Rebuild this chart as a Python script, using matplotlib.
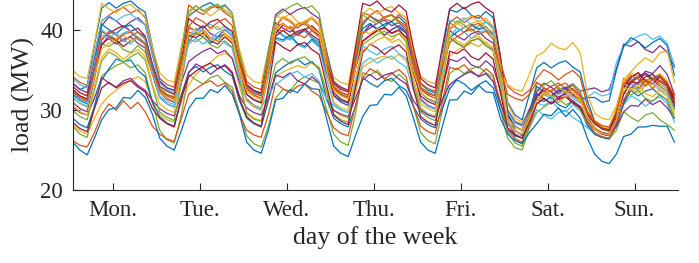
import numpy as np
import matplotlib
matplotlib.use("Agg")
import matplotlib.pyplot as plt

plt.rcParams['font.family'] = ['Liberation Serif', 'DejaVu Serif']

days = ["Mon.", "Tue.", "Wed.", "Thu.", "Fri.", "Sat.", "Sun."]
hours_of_day = [1, 3, 5, 7, 9, 11, 13, 15, 17, 19, 21, 23]

s00 = [[33.4,32.6,33.0,38.2,42.8,43.5,42.8,43.4,43.7,42.9,42.3,38.0],
       [33.7,32.8,32.5,37.8,41.8,42.5,43.1,43.5,42.8,43.2,42.2,37.2],
       [33.2,32.3,32.0,35.6,40.1,39.4,38.9,39.7,40.0,39.1,38.5,35.4],
       [32.6,31.9,31.6,36.5,40.7,41.8,41.3,40.5,41.2,41.7,40.8,36.8],
       [33.3,32.5,32.2,37.2,42.6,42.3,42.9,41.9,41.5,42.4,41.6,36.5],
       [31.0,29.4,28.8,32.0,35.3,36.0,35.3,35.9,36.2,35.4,34.8,31.2],
       [28.6,27.8,27.5,30.0,33.0,33.7,34.3,34.7,34.0,34.4,33.4,30.5]]
s01 = [[34.2,33.5,33.1,37.0,41.2,41.9,42.5,42.9,42.2,42.6,41.6,37.4],
       [34.0,33.2,32.9,37.6,43.2,42.5,42.0,42.8,43.1,42.2,41.6,37.2],
       [33.6,32.9,32.6,36.8,40.5,41.6,41.1,40.3,41.0,41.5,40.6,36.6],
       [33.5,32.8,32.5,37.0,42.2,41.9,42.5,41.5,41.1,42.0,41.2,36.9],
       [33.4,32.7,32.4,36.6,41.0,41.7,41.0,41.6,41.9,41.1,40.5,35.4],
       [30.0,28.6,28.2,30.2,31.7,32.4,33.0,33.4,32.7,33.1,32.1,29.4],
       [28.3,27.8,27.6,29.6,34.0,33.3,32.8,33.6,33.9,33.0,32.4,30.2]]
s02 = [[35.0,34.2,34.0,38.4,43.4,42.7,42.2,43.0,43.3,42.4,41.8,37.9],
       [34.7,33.8,33.5,38.0,42.0,43.1,42.6,41.8,42.5,43.0,42.1,37.6],
       [34.4,33.6,33.4,37.6,41.8,41.5,42.1,41.1,40.7,41.6,40.8,37.1],
       [34.1,33.5,33.2,37.9,42.1,42.8,42.1,42.7,43.0,42.2,41.6,37.3],
       [34.3,33.6,33.3,36.8,40.1,40.8,41.4,41.8,41.1,41.5,40.5,35.9],
       [30.8,29.0,28.5,30.0,32.7,32.0,31.5,32.3,32.6,31.7,31.1,29.6],
       [28.8,28.0,27.8,30.2,33.6,34.7,34.2,33.4,34.1,34.6,33.7,31.3]]
s03 = [[33.4,32.6,32.2,36.4,40.6,41.7,41.2,40.4,41.1,41.6,40.7,36.9],
       [33.5,32.8,32.5,36.1,40.3,40.0,40.6,39.6,39.2,40.1,39.3,36.0],
       [33.0,32.4,32.2,37.4,42.0,42.7,42.0,42.6,42.9,42.1,41.5,37.5],
       [33.6,32.9,32.5,36.4,39.6,40.3,40.9,41.3,40.6,41.0,40.0,35.8],
       [32.8,32.2,31.9,35.7,40.0,39.3,38.8,39.6,39.9,39.0,38.4,34.7],
       [30.0,28.5,28.1,30.0,32.3,33.4,32.9,32.1,32.8,33.3,32.4,32.6],
       [32.8,32.3,32.6,35.2,38.3,38.0,38.6,37.6,37.2,38.1,37.3,35.4]]
s04 = [[32.6,31.8,31.4,34.4,38.3,38.0,38.6,37.6,37.2,38.1,37.3,34.5],
       [32.8,32.0,31.7,37.4,42.4,43.1,42.4,43.0,43.3,42.5,41.9,37.0],
       [33.0,32.2,31.9,37.3,41.7,42.4,43.0,43.4,42.7,43.1,42.1,37.1],
       [33.0,32.3,31.9,36.8,42.0,41.3,40.8,41.6,41.9,41.0,40.4,35.9],
       [32.9,32.2,31.8,36.0,40.1,41.2,40.7,39.9,40.6,41.1,40.2,35.0],
       [28.8,26.5,25.8,29.5,33.4,33.1,33.7,32.7,32.3,33.2,32.4,29.8],
       [28.4,27.6,27.3,29.4,32.0,33.9,33.2,33.8,34.1,33.3,32.7,30.2]]
s05 = [[34.0,33.2,32.8,37.0,41.2,41.9,41.2,41.8,42.1,41.3,40.7,37.0],
       [33.4,32.6,32.2,36.0,39.1,39.8,40.4,40.8,40.1,40.5,39.5,35.6],
       [32.8,32.2,31.9,35.7,40.0,39.3,38.8,39.6,39.9,39.0,38.4,35.0],
       [32.6,32.0,31.7,35.7,39.6,40.7,40.2,39.4,40.1,40.6,39.7,35.8],
       [32.8,32.1,31.8,36.4,41.3,41.0,41.6,40.6,40.2,41.1,40.3,35.5],
       [29.8,28.4,28.0,29.8,31.4,32.1,31.4,32.0,32.3,31.5,30.9,31.6],
       [32.3,31.8,32.0,36.0,38.0,38.7,39.3,39.6,38.9,39.3,38.4,35.6]]
s06 = [[33.0,32.2,31.8,35.4,38.9,39.6,40.2,40.6,39.9,40.3,39.3,35.8],
       [33.0,32.4,32.0,36.4,41.5,40.8,40.3,41.1,41.4,40.5,39.9,36.2],
       [33.2,32.5,32.1,36.0,39.6,40.7,40.2,39.4,40.1,40.6,39.7,36.0],
       [33.3,32.6,32.3,37.9,43.4,43.1,43.7,42.7,42.3,43.2,42.4,37.8],
       [34.0,33.2,32.8,38.0,42.7,43.4,42.7,43.3,43.6,42.8,42.2,36.8],
       [29.5,27.5,26.8,29.5,31.2,31.9,32.5,32.9,32.2,32.6,31.6,29.0],
       [27.6,27.0,26.8,29.0,32.8,33.5,33.4,34.2,34.5,33.6,33.0,30.5]]
s07 = [[32.0,31.2,30.8,35.4,40.8,40.1,39.6,40.4,40.7,39.8,39.2,35.6],
       [32.3,31.5,31.1,35.0,38.6,39.7,39.2,38.4,39.1,39.6,38.7,34.8],
       [32.0,31.3,31.0,34.8,39.1,38.8,39.4,38.4,38.0,38.9,38.1,34.7],
       [31.9,31.2,30.9,35.5,40.2,40.9,40.2,40.8,41.1,40.3,39.7,35.5],
       [32.2,31.4,31.0,35.2,39.1,39.8,40.4,40.8,40.1,40.5,39.5,34.8],
       [29.5,28.0,27.5,29.8,33.0,32.3,31.8,32.6,32.9,32.0,31.4,31.6],
       [31.6,31.0,31.2,35.0,38.0,39.1,38.6,37.8,38.5,39.0,38.1,34.4]]
s08 = [[32.2,31.4,31.0,35.0,38.8,39.9,39.4,38.6,39.3,39.8,38.9,35.2],
       [32.5,31.8,31.4,35.0,39.8,39.5,40.1,39.1,38.7,39.6,38.8,35.4],
       [32.6,31.9,31.5,36.0,40.2,40.9,40.2,40.8,41.1,40.3,39.7,35.8],
       [32.8,32.0,31.6,35.2,38.6,39.3,39.9,40.3,39.6,40.0,39.0,35.5],
       [32.6,31.9,31.5,35.8,41.0,40.3,39.8,40.6,40.9,40.0,39.4,36.0],
       [33.0,32.2,31.8,32.5,34.0,35.1,34.6,33.8,34.5,35.0,34.1,30.5],
       [28.6,27.8,27.4,29.8,33.0,34.1,34.7,33.7,33.3,34.2,33.4,30.8]]
s09 = [[28.2,27.4,27.0,29.0,30.8,31.8,32.5,33.2,33.8,34.2,33.6,31.0],
       [29.5,28.8,28.5,31.0,33.2,34.5,35.3,36.0,36.8,37.2,36.5,33.0],
       [29.8,29.0,28.7,31.5,34.2,34.8,35.2,35.6,35.3,36.0,35.4,32.5],
       [30.0,29.3,29.0,32.2,35.4,36.0,36.5,36.8,36.4,37.0,36.2,33.0],
       [30.3,29.6,29.3,33.0,36.8,37.5,38.0,38.4,38.0,38.6,37.6,34.5],
       [33.2,32.6,32.4,34.5,36.8,37.3,38.4,37.8,37.6,38.5,37.2,32.0],
       [29.6,29.0,28.8,30.5,33.8,34.8,35.8,36.6,36.0,37.2,37.5,33.5]]
s10 = [[31.0,30.2,29.8,34.0,38.3,39.0,38.3,38.9,39.2,38.4,37.8,34.5],
       [31.6,30.8,30.4,33.5,36.1,36.8,37.4,37.8,37.1,37.5,36.5,33.5],
       [31.4,30.6,30.2,35.0,41.0,40.3,39.8,40.6,40.9,40.0,39.4,35.6],
       [31.8,31.0,30.6,35.2,39.6,40.7,40.2,39.4,40.1,40.6,39.7,35.0],
       [31.4,30.6,30.2,32.8,36.4,36.1,36.7,35.7,35.3,36.2,35.4,32.5],
       [28.5,27.0,26.5,29.0,31.8,32.5,31.8,32.4,32.7,31.9,31.3,29.0],
       [27.8,27.2,27.0,28.5,31.0,32.8,33.5,34.9,34.6,35.6,34.5,32.0]]
s11 = [[28.0,27.0,26.6,30.5,34.3,35.0,35.6,36.0,35.3,35.7,34.7,31.0],
       [27.5,26.3,25.9,29.5,34.5,33.8,33.3,34.1,34.4,33.5,32.9,29.8],
       [26.8,25.8,25.4,28.0,31.5,32.6,32.4,33.6,34.2,33.8,33.4,30.2],
       [27.0,26.0,25.6,29.5,34.7,34.4,35.0,34.0,33.6,34.5,33.7,30.5],
       [27.2,26.2,25.8,30.0,34.6,35.3,34.6,35.2,35.5,34.7,34.1,30.0],
       [26.5,25.3,25.0,27.8,29.7,30.4,31.0,31.4,30.7,31.1,30.1,28.0],
       [27.0,26.6,26.4,27.5,29.8,29.1,28.6,29.4,29.7,28.8,28.2,27.5]]
s12 = [[32.2,31.3,30.9,35.2,40.1,39.4,38.9,39.7,40.0,39.1,38.5,35.0],
       [31.6,30.8,30.4,35.0,39.2,40.3,39.8,39.0,39.7,40.2,39.3,34.6],
       [31.2,30.4,30.0,34.2,38.9,38.6,39.2,38.2,37.8,38.7,37.9,34.0],
       [30.8,30.1,29.7,32.8,35.9,36.6,35.9,36.5,36.8,36.0,35.4,32.5],
       [30.2,29.5,29.1,31.5,33.2,33.9,34.5,34.9,34.2,34.6,33.6,31.0],
       [28.2,27.3,27.0,28.0,30.1,29.4,28.9,29.7,30.0,29.1,28.5,27.8],
       [27.0,26.6,26.5,28.0,30.7,31.8,31.3,30.5,31.2,31.7,30.8,28.5]]
s13 = [[32.6,31.8,31.4,35.0,38.2,39.3,38.8,38.0,38.7,39.2,38.3,34.8],
       [32.2,31.4,31.0,35.0,39.4,39.1,39.7,38.7,38.3,39.2,38.4,34.8],
       [32.0,31.3,30.9,35.0,39.3,40.0,39.3,39.9,40.2,39.4,38.8,35.2],
       [32.2,31.4,31.0,35.3,38.7,39.4,40.0,40.4,39.7,40.1,39.1,34.8],
       [31.8,31.1,30.7,34.5,39.1,38.4,37.9,38.7,39.0,38.1,37.5,33.8],
       [29.2,27.9,27.5,29.5,31.7,32.8,32.3,31.5,32.2,32.7,31.8,29.5],
       [28.3,27.7,27.5,29.5,33.0,34.1,34.7,33.7,33.3,34.2,33.4,31.0]]
s14 = [[29.0,28.2,27.8,30.5,33.8,35.2,36.4,36.1,36.3,35.0,34.2,31.0],
       [29.2,28.4,28.0,31.5,34.8,35.5,34.8,35.4,35.7,34.9,34.3,31.2],
       [29.0,28.3,27.9,31.2,34.7,35.4,36.0,36.4,35.7,36.1,35.1,31.5],
       [29.0,28.3,27.9,30.5,34.1,33.4,32.9,33.7,34.0,33.1,32.5,30.5],
       [28.9,28.2,27.8,30.2,32.7,33.8,33.3,32.5,33.2,33.7,32.8,30.0],
       [27.6,26.8,26.5,28.5,31.4,31.1,31.7,30.7,30.3,31.2,30.4,28.2],
       [27.0,26.6,26.4,28.2,30.8,32.5,31.8,32.4,32.7,31.9,31.3,29.0]]
s15 = [[26.2,25.6,25.4,27.2,29.5,30.8,30.0,31.2,30.2,31.0,29.8,28.0],
       [27.0,26.4,26.1,29.0,32.0,32.7,33.3,33.7,33.0,33.4,32.4,29.5],
       [27.5,26.9,26.6,29.5,33.4,32.7,32.2,33.0,33.3,32.4,31.8,29.8],
       [27.8,27.1,26.8,30.5,34.1,35.2,34.7,33.9,34.6,35.1,34.2,30.5],
       [28.0,27.3,27.0,31.0,35.4,35.1,35.7,34.7,34.3,35.2,34.4,31.0],
       [27.5,26.4,26.0,28.0,30.8,31.5,30.8,31.4,31.7,30.9,30.3,28.5],
       [27.2,26.7,26.5,28.0,31.3,32.9,32.6,33.8,32.7,33.8,33.2,31.8]]
s16 = [[31.5,30.8,30.4,34.2,37.7,38.4,39.0,39.4,38.7,39.1,38.1,34.6],
       [32.2,31.5,31.1,35.5,40.6,39.9,39.4,40.2,40.5,39.6,39.0,35.3],
       [32.4,31.7,31.3,36.0,40.7,41.8,41.3,40.5,41.2,41.7,40.8,35.8],
       [32.5,31.8,31.4,35.2,39.9,39.6,40.2,39.2,38.8,39.7,38.9,35.0],
       [32.2,31.5,31.1,35.5,40.3,41.0,40.3,40.9,41.2,40.4,39.8,35.5],
       [29.0,27.9,27.5,29.5,31.2,31.9,32.5,32.9,32.2,32.6,31.6,29.2],
       [27.8,27.2,27.0,29.0,33.4,32.7,32.2,33.0,33.3,32.4,31.8,30.0]]
s17 = [[30.4,29.7,29.4,31.5,34.1,33.4,32.9,33.7,34.0,33.1,32.5,31.2],
       [30.2,29.6,29.3,32.0,34.7,35.8,35.3,34.5,35.2,35.7,34.8,31.8],
       [30.3,29.7,29.4,31.5,34.4,34.1,34.7,33.7,33.3,34.2,33.4,31.5],
       [30.0,29.5,29.2,31.5,33.8,34.5,33.8,34.4,34.7,33.9,33.3,31.2],
       [30.0,29.4,29.1,31.4,33.2,33.9,34.5,34.9,34.2,34.6,33.6,30.8],
       [28.6,27.4,27.0,29.0,32.1,31.4,30.9,31.7,32.0,31.1,30.5,29.0],
       [27.6,27.2,27.0,28.0,29.8,30.6,30.5,31.4,30.7,31.2,30.3,29.0]]
s18 = [[30.0,29.2,28.8,32.5,36.2,37.3,36.8,36.0,36.7,37.2,36.3,33.0],
       [29.8,29.1,28.7,33.5,38.9,38.6,39.2,38.2,37.8,38.7,37.9,34.0],
       [29.6,28.9,28.6,32.2,35.8,36.5,35.8,36.4,36.7,35.9,35.3,32.2],
       [29.5,28.8,28.5,33.5,38.2,38.9,39.5,39.9,39.2,39.6,38.6,34.0],
       [29.8,29.1,28.7,33.5,39.1,38.4,37.9,38.7,39.0,38.1,37.5,33.2],
       [27.2,25.9,25.5,28.5,31.2,32.3,31.8,31.0,31.7,32.2,31.3,28.8],
       [27.6,27.1,26.9,28.8,32.2,31.9,32.5,31.5,31.1,32.0,31.2,29.0]]
s19 = [[31.6,30.9,30.5,34.8,39.4,39.1,39.7,38.7,38.3,39.2,38.4,34.8],
       [31.8,31.1,30.7,34.5,38.3,39.0,38.3,38.9,39.2,38.4,37.8,34.0],
       [31.2,30.6,30.3,32.0,33.2,33.9,34.5,34.9,34.2,34.6,33.6,31.5],
       [30.6,30.0,29.7,33.5,38.1,37.4,36.9,37.7,38.0,37.1,36.5,33.5],
       [31.2,30.5,30.1,34.8,39.2,40.3,39.8,39.0,39.7,40.2,39.3,34.5],
       [28.8,27.4,27.0,28.8,30.9,30.6,31.2,30.2,29.8,30.7,29.9,28.5],
       [27.6,27.1,26.9,29.0,32.6,33.3,32.6,33.2,33.5,32.7,32.1,30.2]]
s20 = [[28.5,27.7,27.3,30.2,32.8,33.5,32.8,33.4,33.7,32.9,32.3,30.2],
       [29.0,28.3,27.9,31.5,34.2,34.9,35.5,35.9,35.2,35.6,34.6,31.5],
       [29.2,28.4,28.0,32.8,38.6,37.9,37.4,38.2,38.5,37.6,37.0,33.2],
       [29.4,28.6,28.2,32.8,37.2,38.3,37.8,37.0,37.7,38.2,37.3,32.8],
       [29.2,28.5,28.1,32.5,37.4,37.1,37.7,36.7,36.3,37.2,36.4,32.2],
       [27.8,26.9,26.5,28.5,30.8,31.5,30.8,31.4,31.7,30.9,30.3,28.6],
       [27.6,27.1,26.9,29.0,32.0,33.5,34.1,34.5,33.8,34.2,33.2,31.5]]
s21 = [[26.0,25.0,24.4,26.5,28.8,30.1,30.3,31.6,31.5,32.5,31.6,29.5],
       [26.5,25.5,25.0,27.5,30.2,31.5,31.5,32.6,32.2,33.1,32.0,29.5],
       [26.0,25.0,24.6,27.5,31.3,31.5,32.6,32.2,33.3,32.7,32.6,29.0],
       [25.5,24.6,24.2,26.8,29.2,30.6,30.7,32.0,31.9,32.9,31.8,29.0],
       [26.0,25.0,24.6,28.0,31.3,31.3,32.4,32.0,33.1,32.3,32.2,29.0],
       [27.0,26.2,25.8,27.2,28.3,29.5,29.3,30.3,29.2,30.1,29.0,26.5],
       [24.5,23.6,23.3,24.5,26.7,27.0,27.9,27.9,28.1,28.0,28.0,26.0]]
s22 = [[32.3,31.6,31.2,35.0,39.9,39.2,38.7,39.5,39.8,38.9,38.3,35.2],
       [32.6,31.9,31.6,36.0,40.5,41.6,41.1,40.3,41.0,41.5,40.6,36.0],
       [32.8,32.1,31.8,35.8,40.2,39.9,40.5,39.5,39.1,40.0,39.2,35.6],
       [32.9,32.2,31.9,36.5,41.1,41.8,41.1,41.7,42.0,41.2,40.6,36.2],
       [32.8,32.1,31.8,35.5,38.5,39.2,39.8,40.2,39.5,39.9,38.9,35.0],
       [32.0,31.5,31.2,32.0,33.5,32.8,32.3,33.1,33.4,32.5,31.9,29.8],
       [28.6,28.1,27.9,29.8,33.3,34.4,33.9,33.1,33.8,34.3,33.4,32.0]]
s23 = [[30.6,29.8,29.4,33.0,36.6,37.7,37.2,36.4,37.1,37.6,36.7,33.2],
       [30.8,30.1,29.7,34.5,39.7,39.4,40.0,39.0,38.6,39.5,38.7,34.8],
       [31.2,30.5,30.1,35.0,40.1,40.8,40.1,40.7,41.0,40.2,39.6,35.2],
       [31.0,30.3,30.0,34.0,37.5,38.2,38.8,39.2,38.5,38.9,37.9,33.8],
       [30.8,30.2,29.8,34.2,39.4,38.7,38.2,39.0,39.3,38.4,37.8,34.0],
       [28.6,27.4,27.0,29.0,31.2,32.3,31.8,31.0,31.7,32.2,31.3,28.8],
       [27.6,27.1,26.9,28.8,32.8,32.5,33.1,32.1,31.7,32.6,31.8,29.5]]

series = [s00, s01, s02, s03, s04, s05, s06, s07, s08, s09, s10, s11,
          s12, s13, s14, s15, s16, s17, s18, s19, s20, s21, s22, s23]

colors = ["#0072BD", "#D95319", "#EDB120", "#7E2F8E",
          "#77AC30", "#4DBEEE", "#A2142F"]
axis_color = "#262626"

t = np.concatenate([24 * d + np.array(hours_of_day) for d in range(len(days))])

fig = plt.figure(figsize=(6.99, 2.63), dpi=100)
ax = fig.add_axes([0.104, 0.2776, 0.866, 0.7278])
for i, s in enumerate(series):
    ax.plot(t, np.concatenate(s), color=colors[i % len(colors)], lw=0.9)

ax.set_xlim(1, 168)
ax.set_ylim(20, 44)
ax.set_xticks([12 + 24 * d for d in range(len(days))])
ax.set_xticklabels(days)
ax.set_yticks([20, 30, 40])
for side in ("top", "right"):
    ax.spines[side].set_visible(False)
for side in ("left", "bottom"):
    ax.spines[side].set_color(axis_color)
    ax.spines[side].set_linewidth(0.8)
ax.tick_params(direction="in", length=5, width=0.8, labelsize=16.5,
               pad=7, colors=axis_color)
ax.set_xlabel("day of the week", fontsize=18.5, color=axis_color, labelpad=4)
ax.set_ylabel("load (MW)", fontsize=18.5, color=axis_color, labelpad=4)

fig.savefig("out.png", dpi=100)
